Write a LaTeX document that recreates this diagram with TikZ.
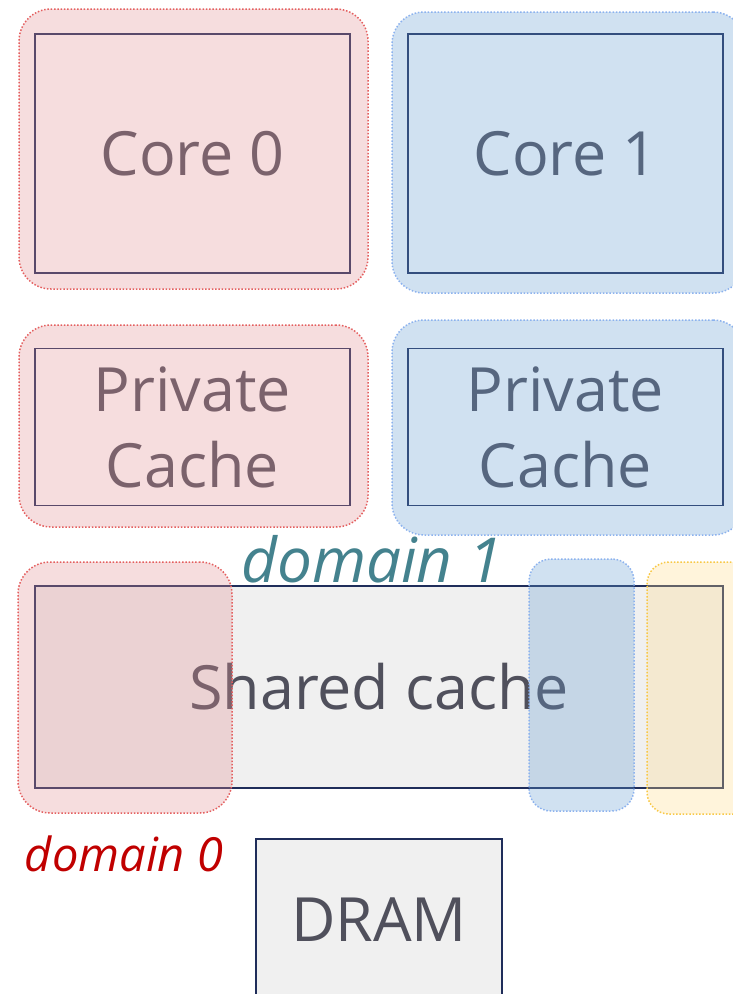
\documentclass[tikz,border=0pt]{standalone}
\usepackage{fontspec}
\setmainfont{Open Sans}
\definecolor{boxline}{RGB}{31,45,90}
\definecolor{boxtext}{RGB}{80,80,92}
\definecolor{boxfill}{RGB}{240,240,240}
\definecolor{redfill}{RGB}{224,141,145}
\definecolor{reddot}{RGB}{228,95,95}
\definecolor{bluefill}{RGB}{100,155,210}
\definecolor{bluedot}{RGB}{140,178,238}
\definecolor{yelfill}{RGB}{255,220,135}
\definecolor{yeldot}{RGB}{248,200,70}
\definecolor{tealtext}{RGB}{68,130,142}
\definecolor{redtext}{RGB}{192,0,0}
\def \unitw {315pt}
\tikzstyle{unit}=[draw=boxline, line width=1.4pt, inner sep=0pt, text=boxtext,
  minimum width=\unitw, font=\fontsize{61}{76}\selectfont]
\tikzstyle{region}=[inner sep=0pt, rounded corners=32pt, fill opacity=0.3,
  line width=1.5pt, dash pattern=on 1.5pt off 1.8pt]
\tikzstyle{dlabel}=[anchor=base, inner sep=0pt, font=\itshape]

\begin{document}
\begin{tikzpicture}[x=1pt, y=-1pt]
\useasboundingbox (0,0) rectangle (732,994);

\foreach \c/\x in {0/192.5, 1/565.5} {
    \node[unit, minimum height=239pt] (core\c) at (\x,153.5) {Core \c};
    \node[unit, minimum height=157pt, align=center] (priv\c) at (\x,427) {Private\\Cache};
}
\node[unit, fill=boxfill, minimum width=688pt, minimum height=202pt] (shared) at (379,687) {Shared cache};
\node[unit, fill=boxfill, minimum width=246pt, minimum height=162pt] (dram) at (379,920) {DRAM};

\node[region, fill=redfill, draw=reddot, minimum width=349pt, minimum height=280pt] (dom0core) at (193.5,149) {};
\node[region, fill=redfill, draw=reddot, minimum width=349pt, minimum height=202pt] (dom0priv) at (193.5,426) {};
\node[region, fill=redfill, draw=reddot, minimum width=214pt, minimum height=251pt] (dom0shared) at (125,687.5) {};

\node[region, fill=bluefill, draw=bluedot, minimum width=353pt, minimum height=281pt] (dom1core) at (568.5,152.5) {};
\node[region, fill=bluefill, draw=bluedot, minimum width=353pt, minimum height=215pt] (dom1priv) at (568.5,427.5) {};
\node[region, fill=bluefill, draw=bluedot, rounded corners=22pt, minimum width=105pt, minimum height=252pt] (dom1shared) at (581.5,685) {};

\node[region, fill=yelfill, draw=yeldot, rounded corners=22pt, minimum width=113pt, minimum height=252pt] (dom2shared) at (703.5,688) {};

\node[dlabel, text=tealtext, font=\itshape\fontsize{62}{74}\selectfont] (dom1name) at (372,582) {domain 1};
\node[dlabel, text=redtext, font=\itshape\fontsize{47}{56}\selectfont] (dom0name) at (124,871) {domain 0};

\end{tikzpicture}
\end{document}
